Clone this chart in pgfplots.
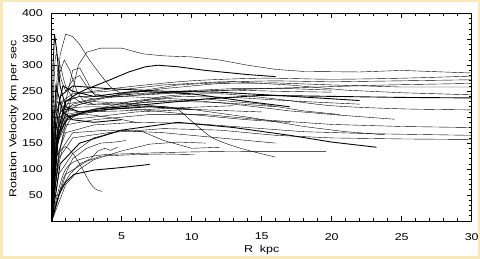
\documentclass[border=0pt]{standalone}
\usepackage{fontspec}
\setmainfont{Liberation Sans}[FakeStretch=1.25]
\usepackage{pgfplots}
\pgfplotsset{compat=1.18}
\definecolor{framecol}{RGB}{247,234,184}
\begin{document}
\begin{tikzpicture}
\useasboundingbox (0,0) rectangle (480bp,259bp);
\fill[white] (0,0) rectangle (480bp,259bp);
\begin{axis}[
  at={(51.7bp,38bp)}, anchor=south west,
  scale only axis, width=420bp, height=207.7bp,
  xmin=0, xmax=30, ymin=0, ymax=400,
  xtick={5,10,...,30}, ytick={50,100,...,400},
  minor xtick={1,2,...,29}, minor ytick={10,20,...,390},
  tick align=inside, tick pos=both,
  major tick length=5bp, minor tick length=2.5bp,
  tick style={black, line width=0.7pt},
  axis line style={line width=0.9pt},
  /pgf/number format/assume math mode=true,
  xticklabel style={yshift=-8.6bp},
  yticklabel style={xshift=-5.4bp},
  xlabel={R\ \ kpc}, ylabel={Rotation Velocity km per sec},
  xlabel style={at={(axis description cs:0.5,0)}, anchor=center, yshift=-29bp},
  ylabel style={at={(axis description cs:0,0.5)}, anchor=center, yshift=38bp, yshift=0bp, xshift=-2bp},
  cycle list={{black, no markers, line width=0.9pt, smooth, tension=0.4}},
]
% long curves
\addplot coordinates {(0,0) (0.5,130) (1.1,200) (1.5,252) (1.9,300) (2.5,325) (3.5,333) (5,333) (6.5,322) (8,318) (10,316) (12,310) (14,300) (16,292) (18,288) (22,287) (25,290) (30,285)};
\addplot coordinates {(0,0) (0.3,200) (0.6,320) (1,360) (1.5,355) (2,340) (2.7,310) (3.5,281) (4.2,258) (5,245) (6,242) (8,245) (10,250) (13,252) (16,250) (20,248)};
\addplot coordinates {(0,0) (0.4,170) (1,230) (1.8,245) (2.4,253) (4,270) (5.5,287) (6.7,297) (7.6,300) (9,297) (11,290) (14,282) (16,278)};
\addplot coordinates {(0,0) (0.3,120) (0.8,200) (1.5,240) (3,250) (6,260) (10,270) (15,275) (20,273) (25,275) (30,279)};
\addplot coordinates {(0,0) (0.3,150) (0.7,230) (1.5,245) (4,250) (8,262) (12,268) (16,270) (20,268) (25,270) (30,272)};
\addplot coordinates {(0,0) (0.2,100) (0.6,200) (1.5,225) (4,240) (8,255) (12,265) (16,266) (20,262) (25,258) (30,258)};
\addplot coordinates {(0,0) (0.4,160) (1,210) (2,225) (5,245) (9,262) (13,268) (17,262) (21,252) (25,247) (30,243)};
\addplot coordinates {(0,0) (0.5,170) (1.2,200) (3,215) (7,225) (11,235) (15,242) (20,240) (25,238) (30,237)};
\addplot coordinates {(0,0) (0.3,130) (1,190) (2,205) (5,220) (8,240) (12,245) (16,235) (20,222) (25,216) (30,214)};
\addplot coordinates {(0,0) (0.4,150) (1,185) (3,195) (7,205) (11,205) (15,195) (20,186) (25,182) (30,180)};
\addplot coordinates {(0,0) (0.3,120) (1,170) (3,185) (6,190) (10,188) (14,180) (18,172) (23,168) (30,165)};
\addplot coordinates {(0,0) (0.5,120) (1.5,160) (4,170) (8,178) (12,175) (16,165) (20,160) (25,158) (30,157)};
% medium curves
\addplot coordinates {(0,0) (0.6,110) (2,150) (5,175) (9,190) (13,180) (17,165) (20,152) (23.2,142)};
\addplot coordinates {(0,0) (1,100) (3,125) (6,130) (10,133) (14,134) (19.6,134)};
\addplot coordinates {(0,0) (0.4,160) (1,205) (3,215) (7,230) (11,235) (15,225) (18,212) (20.6,205)};
\addplot coordinates {(0,0) (0.5,170) (1.2,220) (3,230) (6,225) (10,215) (14,200) (18,182) (21,172) (23.8,166)};
\addplot coordinates {(0,0) (0.3,180) (0.8,230) (2,240) (5,240) (9,235) (13,225) (17,212) (21,203) (24.5,196)};
\addplot coordinates {(0,0) (0.2,150) (0.6,240) (1.5,260) (4,255) (8,250) (12,248) (16,242) (22,232)};
\addplot coordinates {(0,0) (0.4,160) (1,200) (3,210) (6,220) (8.7,218) (10,192) (11.5,160) (13.5,140) (16,123)};
\addplot coordinates {(0,0) (1,90) (2.5,115) (3.5,125) (6,128) (8,129) (10.2,128)};
\addplot coordinates {(0,0) (0.5,130) (1.5,170) (4,175) (8,170) (12,160) (16,150)};
\addplot coordinates {(0,0) (0.5,90) (1.5,130) (3,160) (5,175) (6.5,172) (8,155) (10,140) (12,142)};
\addplot coordinates {(0,0) (0.3,200) (0.8,260) (1.5,250) (3,240) (6,250) (10,245) (14,230) (17,220)};
\addplot coordinates {(0,0) (0.5,190) (1,215) (3,220) (6,215) (10,205) (14,195) (17,190)};
\addplot coordinates {(0,0) (0.3,150) (1,195) (3,200) (6,210) (10,215) (15,210)};
\addplot coordinates {(0,0) (0.4,170) (1,225) (3,235) (7,245) (11,250) (15,255) (19,258) (24,262) (30,265)};
\addplot coordinates {(0,0) (0.3,140) (1,200) (3,215) (6,232) (9,240) (13,238) (18,230) (22,225)};
% short curves
\addplot coordinates {(0,0) (0.5,50) (1,75) (1.6,90) (3,98) (5,103) (7,109)};
\addplot coordinates {(0,0) (0.2,60) (0.8,140) (1.5,130) (2.2,100) (2.7,75) (3.1,62) (3.6,57)};
\addplot coordinates {(0,0) (0.6,60) (1.3,90) (2,110) (2.8,120) (3.3,135) (3.8,140) (4.2,136) (4.7,142)};
\addplot coordinates {(0,0) (0.8,80) (1.5,120) (2.5,140) (3.5,150) (4.5,152) (5.3,155)};
\addplot coordinates {(0,0) (1,70) (2,100) (3,118) (5,135) (7,148) (9,152) (11,150)};
\addplot coordinates {(0,0) (0.1,300) (0.2,360) (0.35,330) (0.6,260) (1,220) (2,210) (4,215) (7,220) (10,215)};
\addplot coordinates {(0,0) (0.15,250) (0.3,320) (0.6,300) (1,260) (1.5,240) (2.5,225) (5,225) (8,230) (12,228) (16,220)};
\addplot coordinates {(0,0) (0.2,200) (0.5,280) (0.9,310) (1.3,290) (1.8,250) (2.3,230) (3,225) (5,228) (8,235)};
\addplot coordinates {(0,0) (0.4,150) (1,230) (1.5,290) (2,295) (2.5,270) (3,245) (4,240) (6,245) (9,250) (13,255) (17,255) (20,252)};
\addplot coordinates {(0,0) (0.2,120) (0.5,200) (1,230) (2,240) (3,235)};
\addplot coordinates {(0,0) (0.15,180) (0.3,260) (0.5,240) (0.8,210) (1.5,195) (3,190) (5,195)};
\addplot coordinates {(0,0) (0.3,80) (0.7,150) (1.2,190) (2,205) (4,200) (6,190)};
\addplot coordinates {(0,0) (0.25,220) (0.45,300) (0.7,270) (1,250) (1.6,275) (2,280) (2.6,255) (3.2,240)};
\addplot coordinates {(0,0) (0.1,100) (0.2,200) (0.4,230) (1,215) (2,210) (5,212) (9,218) (13,222)};
\end{axis}
\draw[framecol, line width=2.5bp] (1.25bp,1.25bp) rectangle (478.75bp,257.75bp);
\end{tikzpicture}
\end{document}
